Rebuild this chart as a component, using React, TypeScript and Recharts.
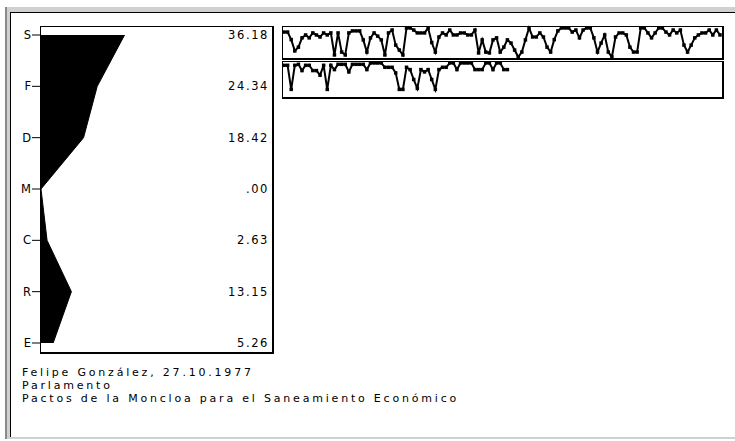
import React from 'react';
import { AreaChart, Area, LineChart, Line, XAxis, YAxis } from 'recharts';

// party initials down the left axis, share per party on the right
const parties = ['S', 'F', 'D', 'M', 'C', 'R', 'E'];
const shares = [36.18, 24.34, 18.42, 0, 2.63, 13.15, 5.26];
const shareLabels = ['36.18', '24.34', '18.42', '.00', '2.63', '13.15', '5.26'];

// sentence profile, first paragraph strip (0 = bottom, 10 = top)
const strip1 = [
  8.6, 8.6, 6, 2.1, 3.4, 6.6, 7.6, 6.6, 8.3, 7.6,
  6.9, 8.3, 7.6, 8.3, 0.7, 8.3, 1.7, 0.7, 8.3, 9,
  9, 9, 5.9, 1.7, 6.6, 8.3, 7.2, 5.9, 0.7, 8.3,
  9.3, 4.1, 2.4, 0.7, 10, 10, 9.3, 8.3, 8.3, 8.3,
  10, 5, 1.7, 6.9, 8.3, 7.6, 9.3, 7.6, 7.6, 8.3,
  8.3, 7.6, 7.6, 9.3, 1.4, 5.9, 1.7, 1.4, 5.9, 6.6,
  1.7, 3.4, 5.9, 4.8, 2.4, 0, 1.7, 5.9, 10, 6.9,
  6.9, 8.3, 6.9, 3.4, 1.7, 6, 9, 10, 10, 10,
  8.6, 9.3, 6.6, 9.3, 10, 10, 6.6, 1.7, 4.8, 7.6,
  1.7, 0, 6.9, 8.3, 8.3, 7.6, 3.4, 1.7, 1.7, 10,
  10, 8.3, 6.6, 8.3, 10, 10, 8.6, 7.6, 9.3, 8.3,
  9.3, 4.1, 1.7, 4.1, 6.6, 7.6, 8.3, 8.3, 9.3, 7.6,
  9.3, 7.6,
];

// second paragraph strip
const strip2 = [
  9.3, 9.3, 2, 9.3, 9.6, 7.7, 9.3, 9.3, 7.7, 7.7,
  6.3, 9.3, 2, 9.3, 8, 9.6, 9.6, 9.6, 7.3, 9.6,
  9.6, 9.6, 9.6, 8, 10, 10, 10, 10, 8.7, 8.7,
  8.7, 7, 2, 2, 8.7, 8, 5, 2.3, 8, 7.3,
  8, 5, 2, 8, 8.7, 8.7, 10, 10, 8, 10,
  10, 10, 10, 8, 8, 8, 10, 10, 8, 10,
  10, 8, 8,
];

const captionLines = [
  'Felipe González, 27.10.1977',
  'Parlamento',
  'Pactos de la Moncloa para el Saneamiento Económico',
];

const FONT = '"DejaVu Sans", sans-serif';
const stripLength = strip1.length - 1;

const SquareDot = (props: any) => {
  const { cx, cy, index } = props;
  if (cx == null || cy == null) return null;
  return <rect key={index} x={cx - 1.75} y={cy - 1.75} width={3.5} height={3.5} fill="#000" />;
};

// party letter on the left, share value right-aligned inside the panel
const PartyTick = (props: any) => {
  const { x, y, payload, index } = props;
  return (
    <g>
      <text x={x} y={y} dy={4} textAnchor="end" fontSize={11.5} fill="#000" fontFamily={FONT}>
        {payload.value}
      </text>
      <text x={269} y={y} dy={4} textAnchor="end" fontSize={11.5} fill="#000" fontFamily={FONT} letterSpacing={1.6}>
        {shareLabels[index]}
      </text>
    </g>
  );
};

const Strip = ({ values, top, height }: { values: number[]; top: number; height: number }) => {
  const data = values.map((v, i) => ({ i, v }));
  return (
    <>
      <div
        style={{
          position: 'absolute',
          left: 282,
          top,
          width: 439,
          height: height - 3,
          borderTop: '1px solid #000',
          borderLeft: '1px solid #000',
          borderRight: '2px solid #000',
          borderBottom: '2px solid #000',
        }}
      />
      <div style={{ position: 'absolute', left: 280, top: top - 2 }}>
        <LineChart width={445} height={height + 4} data={data} margin={{ top: 4, right: 5, bottom: 5, left: 4 }}>
          <XAxis type="number" dataKey="i" domain={[0, stripLength]} hide />
          <YAxis type="number" domain={[0, 10]} hide />
          <Line
            type="linear"
            dataKey="v"
            stroke="#000"
            strokeWidth={2}
            dot={<SquareDot />}
            activeDot={false}
            isAnimationActive={false}
          />
        </LineChart>
      </div>
    </>
  );
};

const App = () => {
  const shareData = parties.map((p, i) => ({ party: p, share: shares[i] }));

  return (
    <div style={{ position: 'relative', width: 735, height: 441, background: '#fff', overflow: 'hidden', fontFamily: FONT }}>
      <style>{'body{margin:0}'}</style>

      {/* window frame */}
      <div style={{ position: 'absolute', left: 5, top: 7, width: 740, height: 432, background: '#d0d0d0', borderLeft: '2px solid #8a8a8a' }} />
      <div
        style={{
          position: 'absolute',
          left: 10,
          top: 12,
          width: 740,
          height: 424,
          background: '#fff',
          borderTop: '1px solid #000',
          borderLeft: '1px solid #000',
        }}
      />

      {/* share profile panel */}
      <div
        style={{
          position: 'absolute',
          left: 40,
          top: 26,
          width: 231,
          height: 325,
          borderTop: '1px solid #000',
          borderLeft: '1px solid #000',
          borderRight: '2px solid #000',
          borderBottom: '2px solid #000',
        }}
      />
      <div style={{ position: 'absolute', left: 0, top: 0 }}>
        <AreaChart width={280} height={360} data={shareData} layout="vertical" margin={{ top: 35, right: 8, bottom: 17, left: 0 }}>
          <XAxis type="number" domain={[0, 100]} hide />
          <YAxis
            type="category"
            scale="point"
            dataKey="party"
            width={41}
            axisLine={false}
            tickSize={9}
            tickMargin={1}
            tickLine={{ stroke: '#000' }}
            tick={<PartyTick />}
            interval={0}
          />
          <Area
            type="linear"
            dataKey="share"
            stroke="#000"
            strokeWidth={1}
            fill="#000"
            fillOpacity={1}
            dot={false}
            activeDot={false}
            isAnimationActive={false}
          />
        </AreaChart>
      </div>

      <Strip values={strip1} top={26} height={34} />
      <Strip values={strip2} top={61} height={38} />

      {/* caption */}
      <div style={{ position: 'absolute', left: 22, top: 366, fontSize: 11, lineHeight: '13px', letterSpacing: 2.8, color: '#000' }}>
        {captionLines.map((t) => (
          <div key={t}>{t}</div>
        ))}
      </div>
    </div>
  );
};

export default App;
